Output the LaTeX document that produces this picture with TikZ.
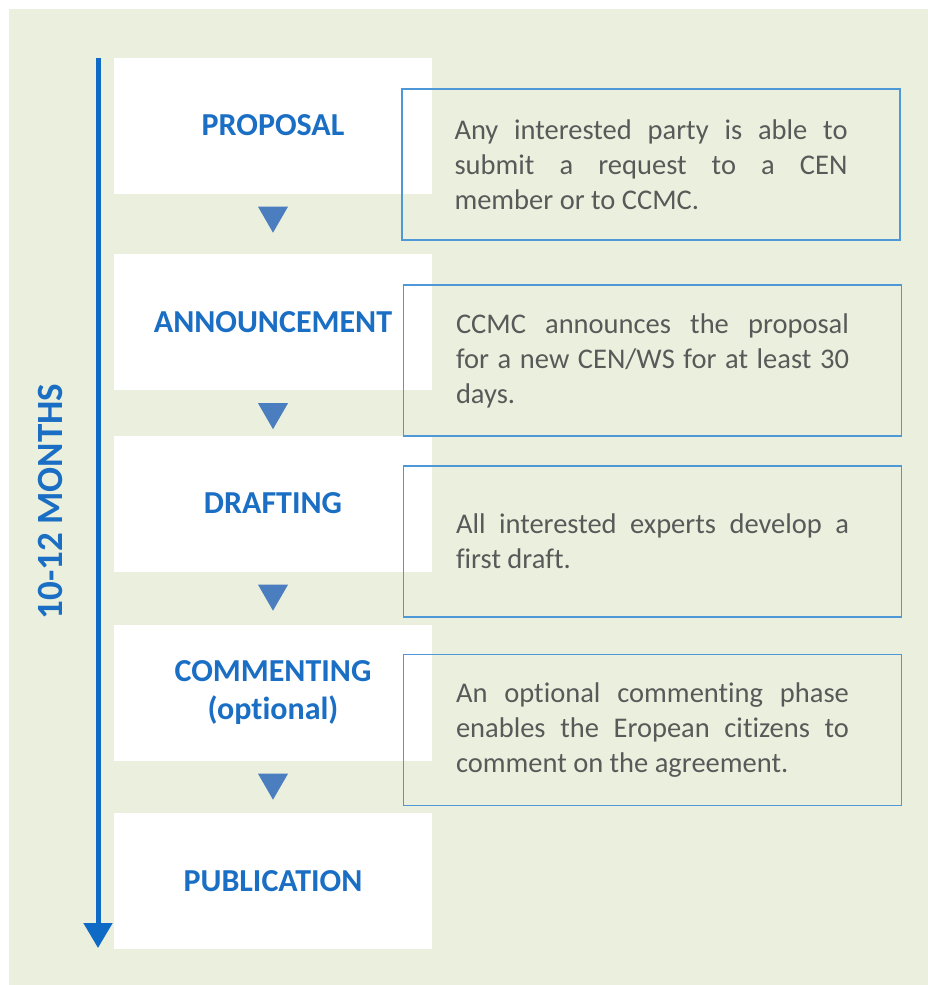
\documentclass[tikz,border=0pt]{standalone}
\usepackage{fontspec}
\setmainfont[Ligatures={NoCommon}]{Carlito}
\usetikzlibrary{calc,arrows.meta}
\definecolor{panelgreen}{HTML}{EBF0DE}
\definecolor{titleblue}{HTML}{1A6EC3}
\definecolor{lineblue}{HTML}{0E6AC4}
\definecolor{triblue}{HTML}{4A7EBF}
\definecolor{noteblue}{HTML}{4F98D8}
\definecolor{bodygray}{HTML}{595959}
\begin{document}
\begin{tikzpicture}[x=1pt,y=-1pt,
  stagebox/.style={fill=white, draw=none, minimum width=318pt, minimum height=136pt,
    inner sep=0pt, text=titleblue, align=center,
    font=\fontsize{32}{38}\selectfont\bfseries},
  notebox/.style={draw=noteblue, line width=1.8pt, minimum width=498pt, minimum height=151pt,
    text width=393pt, inner xsep=52.5pt, inner ysep=0pt, align=justify, text=bodygray,
    font=\fontsize{28.5}{35}\selectfont},
  steptri/.style={fill=triblue, draw=none},
  timeline/.style={draw=lineblue, line width=5pt, -{Triangle[width=28pt,length=25pt]}},
  spanlabel/.style={text=titleblue, rotate=90, inner sep=0pt,
    font=\fontsize{37}{40}\selectfont\bfseries}
]
% page and panel
\fill[white] (0,0) rectangle (928,985);
\fill[panelgreen] (9,9) rectangle (928,985);
\useasboundingbox (0,0) rectangle (928,985);

% stages
\node[stagebox] (s1) at (273,125.5) {PROPOSAL};
\node[stagebox] (s2) at (273,322) {ANNOUNCEMENT};
\node[stagebox] (s3) at (273,503.5) {DRAFTING};
\node[stagebox] (s4) at (273,692.5) {COMMENTING\\[-0.5pt](optional)};
\node[stagebox] (s5) at (273,881) {PUBLICATION};

% step markers between stages
\foreach \a in {s1,s2,s3,s4}{
  \fill[steptri] ($(\a.south)+(-15,13)$) -- ++(30,0) -- ++(-15,26) -- cycle;
}

% notes
\node[notebox] (n1) at (651,164.5) {Any interested party is able to\linebreak submit a request to a CEN\linebreak member or to CCMC.};
\node[notebox] (n2) at (652.5,360.5) {CCMC announces the proposal\linebreak for a new CEN/WS for at least 30\linebreak days.};
\node[notebox] (n3) at (652.5,541.5) {All interested experts develop a\linebreak first draft.};
\node[notebox] (n4) at (652.5,730) {An optional commenting phase\linebreak enables the Eropean citizens to\linebreak comment on the agreement.};

% duration axis
\coordinate (tstart) at (98,58);
\coordinate (tend) at (98,948);
\draw[timeline] (tstart) -- (tend);
\node[spanlabel] (span) at (50.5,501.5) {10-12 MONTHS};
\end{tikzpicture}
\end{document}
